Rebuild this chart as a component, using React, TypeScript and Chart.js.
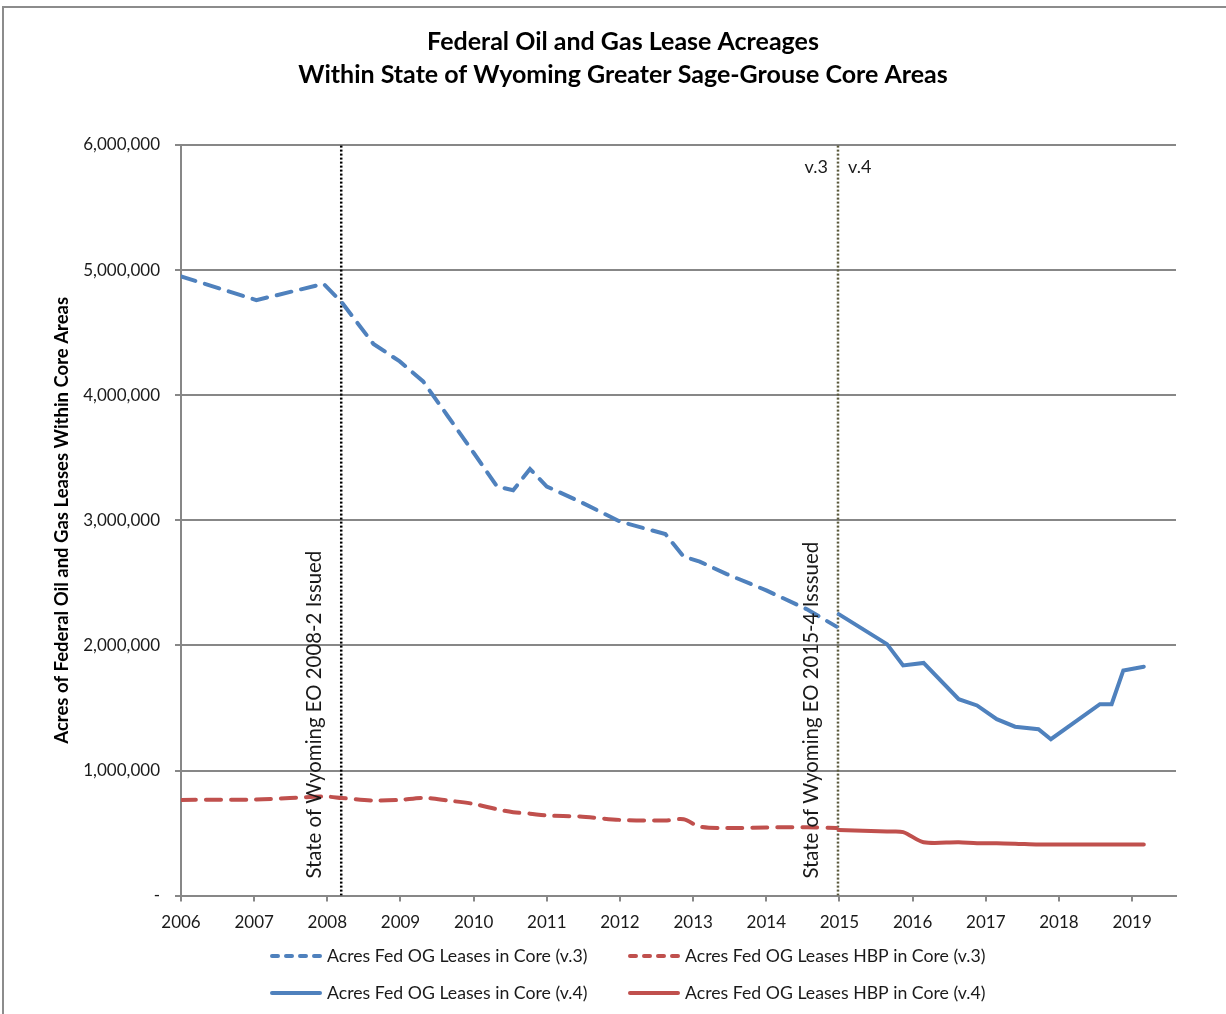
import React, { useEffect, useRef } from 'react';
import { Chart, registerables } from 'chart.js';

Chart.register(...registerables);

const TITLE_LINES = [
  'Federal Oil and Gas Lease Acreages',
  'Within State of Wyoming Greater Sage-Grouse Core Areas',
];
const Y_TITLE = 'Acres of Federal Oil and Gas Leases Within Core Areas';

const SERIES_LABELS = [
  'Acres Fed OG Leases in Core (v.3)',
  'Acres Fed OG Leases HBP in Core (v.3)',
  'Acres Fed OG Leases in Core (v.4)',
  'Acres Fed OG Leases HBP in Core (v.4)',
];

// v.3 observations (decimal years)
const V3_DATES = [
  2006.0, 2007.03, 2007.95, 2008.2, 2008.63, 2008.99, 2009.31, 2009.65, 2010.0, 2010.32,
  2010.54, 2010.77, 2011.0, 2011.45, 2012.0, 2012.62, 2012.87, 2013.09, 2013.46, 2014.0,
  2014.55, 2014.96,
];
const V3_CORE = [
  4950000, 4760000, 4890000, 4740000, 4410000, 4270000, 4110000, 3830000, 3540000, 3270000,
  3240000, 3410000, 3270000, 3150000, 2990000, 2890000, 2710000, 2670000, 2570000, 2440000,
  2290000, 2150000,
];
const V3_HBP = [
  765000, 768000, 792000, 780000, 760000, 765000, 781000, 760000, 733000, 690000,
  667000, 655000, 640000, 632000, 605000, 600000, 610000, 552000, 540000, 545000,
  547000, 540000,
];

// v.4 observations
const V4_DATES = [
  2014.99, 2015.65, 2015.87, 2016.15, 2016.63, 2016.88, 2017.15, 2017.4, 2017.72, 2017.89,
  2018.56, 2018.72, 2018.88, 2019.16,
];
const V4_CORE = [
  2250000, 2010000, 1840000, 1860000, 1570000, 1520000, 1410000, 1350000, 1330000, 1250000,
  1530000, 1530000, 1800000, 1830000,
];
const V4_HBP = [
  525000, 512000, 508000, 427000, 427000, 419000, 419000, 415000, 408000, 408000,
  408000, 408000, 408000, 408000,
];

const EO_DATES = [2008.19, 2014.98];
const EO_LABELS = ['State of Wyoming EO 2008-2 Issued', 'State of Wyoming EO 2015-4 Isssued'];
const VERSION_LABELS = ['v.3', 'v.4'];

const X_MIN = 2006;
const X_MAX = 2019.6;
const Y_MIN = 0;
const Y_MAX = 6000000;
const Y_STEP = 1000000;

const BLUE = '#4f81bd';
const RED = '#c0504d';
const GRID = '#878787';
const TEXT = '#1a1a1a';
const FONT = 'Lato, "Open Sans", sans-serif';

const zip = (xs: number[], ys: number[]) => xs.map((x, i) => ({ x, y: ys[i] }));

const titlePlugin = {
  id: 'centeredTitle',
  afterDraw(chart: any) {
    const { ctx } = chart;
    ctx.save();
    ctx.fillStyle = '#000000';
    ctx.font = `bold 25px ${FONT}`;
    ctx.textAlign = 'center';
    ctx.textBaseline = 'middle';
    TITLE_LINES.forEach((line, i) => {
      ctx.fillText(line, 623, 42 + i * 33);
    });
    ctx.restore();
  },
};

const annotationPlugin = {
  id: 'eoAnnotations',
  afterDatasetsDraw(chart: any) {
    const { ctx, scales } = chart;
    const xs = scales.x;
    const ys = scales.y;
    ctx.save();
    ctx.fillStyle = TEXT;
    ctx.font = `20.4px ${FONT}`;
    ctx.textBaseline = 'middle';
    EO_LABELS.forEach((label, i) => {
      const px = xs.getPixelForValue(EO_DATES[i]) - 27;
      const py = ys.getPixelForValue(Y_MIN) - 17;
      ctx.save();
      ctx.translate(px, py);
      ctx.rotate(-Math.PI / 2);
      ctx.textAlign = 'left';
      ctx.fillText(label, 0, 0);
      ctx.restore();
    });
    const vx = xs.getPixelForValue(EO_DATES[1]);
    const vy = chart.chartArea.top + 22;
    ctx.font = `18px ${FONT}`;
    ctx.textAlign = 'right';
    ctx.fillText(VERSION_LABELS[0], vx - 10, vy);
    ctx.textAlign = 'left';
    ctx.fillText(VERSION_LABELS[1], vx + 10, vy);
    ctx.restore();
  },
};

const legendPlugin = {
  id: 'gridLegend',
  afterDraw(chart: any) {
    const { ctx } = chart;
    const items = chart.data.datasets.filter((d: any) => !d.hideInLegend);
    const colX = [270, 628];
    const rowY = [956, 993];
    ctx.save();
    ctx.font = `17.7px ${FONT}`;
    ctx.textBaseline = 'middle';
    ctx.textAlign = 'left';
    items.forEach((d: any, i: number) => {
      const x = colX[i % 2];
      const y = rowY[Math.floor(i / 2)];
      ctx.beginPath();
      ctx.strokeStyle = d.borderColor;
      ctx.lineWidth = 4;
      ctx.lineCap = 'round';
      ctx.setLineDash(d.borderDash && d.borderDash.length ? [6, 8] : []);
      ctx.moveTo(x + 2, y);
      ctx.lineTo(x + 50, y);
      ctx.stroke();
      ctx.setLineDash([]);
      ctx.fillStyle = TEXT;
      ctx.fillText(d.label, x + 57, y);
    });
    ctx.restore();
  },
};

export default function App() {
  const canvasRef = useRef<HTMLCanvasElement | null>(null);

  useEffect(() => {
    document.body.style.margin = '0';
    const canvas = canvasRef.current;
    if (!canvas) return;
    Chart.defaults.font.family = FONT;
    Chart.defaults.color = TEXT;

    const dash = [15, 10];
    const chart = new Chart(canvas, {
      type: 'line',
      data: {
        datasets: [
          {
            label: SERIES_LABELS[0],
            data: zip(V3_DATES, V3_CORE),
            borderColor: BLUE,
            backgroundColor: BLUE,
            borderWidth: 4,
            borderDash: dash,
            borderCapStyle: 'round',
            pointRadius: 0,
            tension: 0,
          },
          {
            label: SERIES_LABELS[1],
            data: zip(V3_DATES, V3_HBP),
            borderColor: RED,
            backgroundColor: RED,
            borderWidth: 4,
            borderDash: dash,
            borderCapStyle: 'round',
            pointRadius: 0,
            tension: 0.3,
          },
          {
            label: SERIES_LABELS[2],
            data: zip(V4_DATES, V4_CORE),
            borderColor: BLUE,
            backgroundColor: BLUE,
            borderWidth: 4,
            borderCapStyle: 'round',
            pointRadius: 0,
            tension: 0,
          },
          {
            label: SERIES_LABELS[3],
            data: zip(V4_DATES, V4_HBP),
            borderColor: RED,
            backgroundColor: RED,
            borderWidth: 4,
            borderCapStyle: 'round',
            pointRadius: 0,
            tension: 0.3,
          },
          {
            label: EO_LABELS[0],
            hideInLegend: true,
            data: [
              { x: EO_DATES[0], y: Y_MIN },
              { x: EO_DATES[0], y: Y_MAX },
            ],
            borderColor: '#000000',
            borderWidth: 2.5,
            borderDash: [2, 2],
            pointRadius: 0,
          },
          {
            label: EO_LABELS[1],
            hideInLegend: true,
            data: [
              { x: EO_DATES[1], y: Y_MIN },
              { x: EO_DATES[1], y: Y_MAX },
            ],
            borderColor: '#5b5a3d',
            borderWidth: 2.5,
            borderDash: [2, 2],
            pointRadius: 0,
          },
        ] as any,
      },
      options: {
        responsive: false,
        animation: false,
        devicePixelRatio: 1,
        layout: { padding: { left: 0, right: 50, top: 145, bottom: 70 } },
        plugins: {
          legend: { display: false },
          tooltip: { enabled: false },
          title: { display: false },
        },
        scales: {
          x: {
            type: 'linear',
            min: X_MIN,
            max: X_MAX,
            border: { display: true, color: GRID, width: 2 },
            grid: {
              drawOnChartArea: false,
              drawTicks: true,
              tickLength: 6,
              color: GRID,
              lineWidth: 2,
            },
            ticks: {
              stepSize: 1,
              includeBounds: false,
              padding: 11,
              color: TEXT,
              font: { size: 17 },
              callback: (v: any) => (Number.isInteger(v) ? String(v) : ''),
              maxRotation: 0,
              autoSkip: false,
            },
          },
          y: {
            min: Y_MIN,
            max: Y_MAX,
            afterFit: (scale: any) => {
              scale.width = 181;
            },
            border: { display: true, color: GRID, width: 2 },
            grid: {
              color: GRID,
              lineWidth: 2,
              tickLength: 6,
            },
            ticks: {
              stepSize: Y_STEP,
              padding: 15,
              color: TEXT,
              font: { size: 17 },
              callback: (v: any) => (v === 0 ? '-' : Number(v).toLocaleString('en-US')),
            },
            title: {
              display: true,
              text: Y_TITLE,
              color: '#000000',
              font: { size: 18.5, weight: 'bold', lineHeight: 1.2 },
              padding: { top: 51, bottom: 0 },
            },
          },
        },
      } as any,
      plugins: [titlePlugin, annotationPlugin, legendPlugin],
    });
    return () => chart.destroy();
  }, []);

  return (
    <div style={{ position: 'relative', width: 1226, height: 1014, overflow: 'hidden', background: '#fff' }}>
      <div
        style={{
          position: 'absolute',
          left: 2,
          top: 6,
          width: 1240,
          height: 1030,
          borderLeft: '2px solid #8c8c8c',
          borderTop: '2px solid #8c8c8c',
          pointerEvents: 'none',
        }}
      />
      <canvas ref={canvasRef} width={1226} height={1014} style={{ position: 'absolute', left: 0, top: 0 }} />
    </div>
  );
}
